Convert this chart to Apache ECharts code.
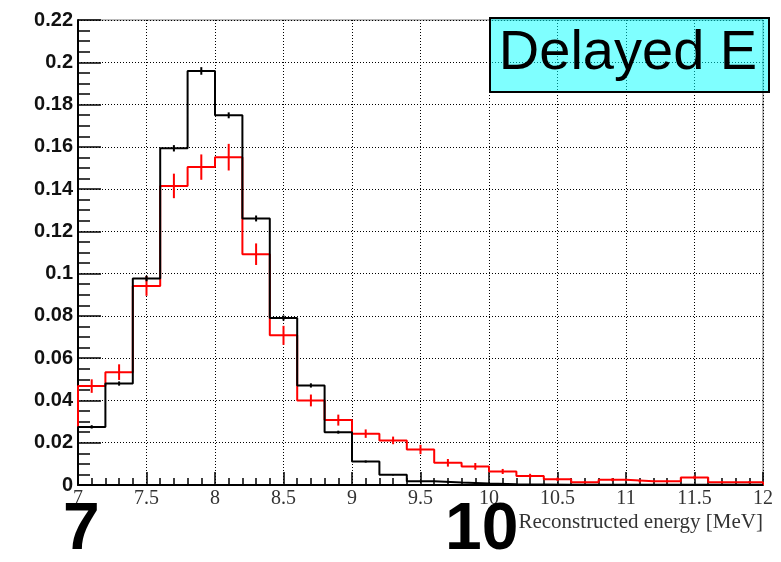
<!DOCTYPE html>
<html>
<head>
<meta charset="utf-8">
<script src="https://cdn.jsdelivr.net/npm/echarts@6/dist/echarts.min.js"></script>
<style>
html,body{margin:0;padding:0;background:#fff;}
#chart{width:781px;height:562px;}
</style>
</head>
<body>
<div id="chart"></div>
<script>
// Bin edges (MeV)
var binEdges = [7.0, 7.2, 7.4, 7.6, 7.8, 8.0, 8.2, 8.4, 8.6, 8.8, 9.0, 9.2, 9.4, 9.6, 9.8,
                10.0, 10.2, 10.4, 10.6, 10.8, 11.0, 11.2, 11.4, 11.6, 11.8, 12.0];
// Bin centres for error bars
var binCenters = [7.1, 7.3, 7.5, 7.7, 7.9, 8.1, 8.3, 8.5, 8.7, 8.9, 9.1, 9.3, 9.5, 9.7, 9.9,
                  10.1, 10.3, 10.5, 10.7, 10.9, 11.1, 11.3, 11.5, 11.7, 11.9];
// Black histogram
var blackValues = [0.0275, 0.048, 0.0977, 0.1593, 0.1959, 0.1749, 0.1261, 0.079, 0.0471, 0.025,
                   0.0111, 0.0048, 0.0018, 0.0012, 0.0007, 0.0003, 0.0002, 0.0001, 0.0001, 0.0001,
                   0.0001, 0.0001, 0.0001, 0.0001, 0.0001];
var blackErrors = [0.0008, 0.001, 0.0013, 0.0015, 0.0018, 0.0014, 0.0014, 0.0012, 0.001, 0.0007,
                   0.0005, 0.0003, 0.0002, 0.0002, 0.0001, 0.0001, 0.0001, 0, 0, 0,
                   0, 0, 0, 0, 0];
// Red histogram
var redValues = [0.0468, 0.0534, 0.0942, 0.1415, 0.1504, 0.1551, 0.1092, 0.0708, 0.040, 0.0307,
                 0.0243, 0.0211, 0.0168, 0.0105, 0.0088, 0.0064, 0.0042, 0.0027, 0.0013, 0.0025,
                 0.0018, 0.0018, 0.0036, 0.0013, 0.0013];
var redErrors = [0.0032, 0.0037, 0.0047, 0.0058, 0.006, 0.0063, 0.0051, 0.0045, 0.0028, 0.0026,
                 0.002, 0.0018, 0.0022, 0.0018, 0.0016, 0.0012, 0.0011, 0.0008, 0.0005, 0.0007,
                 0.0006, 0.0006, 0.0008, 0.0005, 0.0005];
// Axis tick values
var xTicks = [7, 7.5, 8, 8.5, 9, 9.5, 10, 10.5, 11, 11.5, 12];
var yTicks = [0, 0.02, 0.04, 0.06, 0.08, 0.1, 0.12, 0.14, 0.16, 0.18, 0.2, 0.22];

function stepData(vals) {
  var d = [[binEdges[0], 0]];
  for (var i = 0; i < vals.length; i++) d.push([binEdges[i], vals[i]]);
  d.push([binEdges[binEdges.length - 1], vals[vals.length - 1]]);
  d.push([binEdges[binEdges.length - 1], 0]);
  return d;
}
function errData(vals, errs) {
  return binCenters.map(function (c, i) { return [c, vals[i], errs[i]]; });
}
function errRender(color) {
  return function (params, api) {
    var x = api.value(0), y = api.value(1), e = api.value(2);
    var p1 = api.coord([x, y - e]);
    var p2 = api.coord([x, y + e]);
    return {
      type: 'line',
      shape: { x1: p1[0], y1: p1[1], x2: p2[0], y2: p2[1] },
      style: { stroke: color, lineWidth: 2 }
    };
  };
}

var chart = echarts.init(document.getElementById('chart'), null, { renderer: 'canvas' });
var gridDash = { type: [1, 2], color: '#000', width: 1 };
var option = {
  animation: false,
  backgroundColor: '#fff',
  grid: { left: 78, right: 18, top: 20, bottom: 77, show: true, borderColor: '#777', borderWidth: 1, backgroundColor: 'transparent' },
  xAxis: {
    type: 'value', min: xTicks[0], max: xTicks[xTicks.length - 1], interval: 0.5,
    axisLine: { show: true, onZero: false, lineStyle: { color: '#000', width: 2 } },
    axisTick: { show: true, inside: true, length: 13, lineStyle: { color: '#000', width: 1.5 } },
    minorTick: { show: true, splitNumber: 5, length: 7, lineStyle: { color: '#000', width: 1.5 } },
    splitLine: { show: true, lineStyle: gridDash },
    axisLabel: { fontFamily: 'Liberation Serif', fontSize: 20, color: '#333', margin: 4,
      formatter: function (v) { return String(+v.toFixed(2)); } }
  },
  yAxis: {
    type: 'value', min: yTicks[0], max: yTicks[yTicks.length - 1], interval: 0.02,
    axisLine: { show: true, onZero: false, lineStyle: { color: '#000', width: 2 } },
    axisTick: { show: true, inside: true, length: 23, lineStyle: { color: '#000', width: 1.5 } },
    minorTick: { show: true, splitNumber: 4, length: 12, lineStyle: { color: '#000', width: 1.5 } },
    splitLine: { show: true, lineStyle: gridDash },
    axisLabel: { fontFamily: 'Liberation Sans', fontWeight: 'bold', fontSize: 20, color: '#111', margin: 5,
      formatter: function (v) { return String(+v.toFixed(2)); } }
  },
  series: [
    { name: 'red', type: 'line', step: 'end', data: stepData(redValues), showSymbol: false, symbol: 'none',
      lineStyle: { color: '#ff0000', width: 2 }, z: 3 },
    { name: 'redErr', type: 'custom', data: errData(redValues, redErrors), renderItem: errRender('#ff0000'), z: 3 },
    { name: 'black', type: 'line', step: 'end', data: stepData(blackValues), showSymbol: false, symbol: 'none',
      lineStyle: { color: '#000', width: 2 }, z: 4 },
    { name: 'blackErr', type: 'custom', data: errData(blackValues, blackErrors), renderItem: errRender('#000'), z: 4 }
  ],
  graphic: [
    { type: 'rect', left: 489, top: 17, z: 10,
      shape: { width: 279, height: 74 },
      style: { fill: 'rgba(0,255,255,0.5)', stroke: '#000', lineWidth: 2 } },
    { type: 'text', x: 628, y: 54, z: 11,
      style: { text: 'Delayed E', fontFamily: 'Liberation Sans', fontSize: 56, fill: '#000', align: 'center', verticalAlign: 'middle' } },
    { type: 'text', x: 763, y: 522, z: 11,
      style: { text: 'Reconstructed energy [MeV]', fontFamily: 'Liberation Serif', fontSize: 21, fill: '#333', align: 'right', verticalAlign: 'middle' } },
    { type: 'text', x: 63, y: 531, z: 11,
      style: { text: '7', fontFamily: 'Liberation Sans', fontWeight: 'bold', fontSize: 66, fill: '#000', align: 'left', verticalAlign: 'middle' } },
    { type: 'text', x: 445, y: 531, z: 11,
      style: { text: '10', fontFamily: 'Liberation Sans', fontWeight: 'bold', fontSize: 66, fill: '#000', align: 'left', verticalAlign: 'middle' } }
  ]
};
chart.setOption(option);
</script>
</body>
</html>
